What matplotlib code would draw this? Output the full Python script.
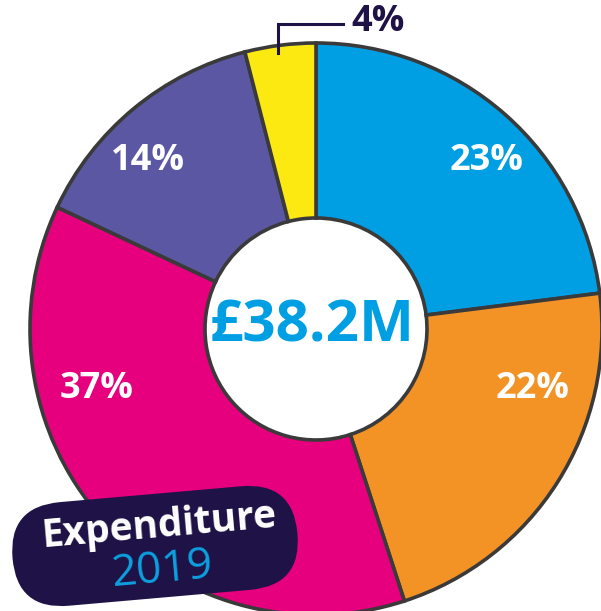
import matplotlib
matplotlib.use("Agg")
import matplotlib.pyplot as plt
from matplotlib.patches import FancyBboxPatch
from matplotlib.transforms import Affine2D

# ---- data ----
categories = ["Blue", "Orange", "Magenta", "Purple", "Yellow"]
shares = [23, 22, 37, 14, 4]
labels = ["23%", "22%", "37%", "14%", "4%"]
colors = ["#009fe3", "#f39325", "#e6007e", "#5b57a2", "#fde912"]
total_label = "£38.2M"
title_label = "Expenditure"
year_label = "2019"

W, H = 601, 611
fig = plt.figure(figsize=(W / 100, H / 100), dpi=100)
ax = fig.add_axes([0, 0, 1, 1])

cx, cy = 316, H - 329
R_out, R_in = 286, 111
edge = "#3a3a3a"

ax.pie(shares, colors=colors, startangle=90, counterclock=False,
       radius=R_out, center=(cx, cy),
       wedgeprops=dict(width=R_out - R_in, edgecolor=edge, linewidth=2.6))
ax.set_xlim(0, W)
ax.set_ylim(0, H)
ax.set_aspect("equal")
ax.axis("off")

font = "Open Sans"
navy = "#1e1246"

# value labels (layout positions)
label_pos = [(487, 161), (533, 389), (97, 389), (148, 161)]
for (x, y), lab in zip(label_pos, labels[:4]):
    ax.text(x, H - y, lab, color="white", fontsize=26, fontweight="bold",
            family=font, ha="center", va="center")

# 4% with leader line
ax.plot([278, 278, 343], [H - 53, H - 24, H - 24], color=navy, lw=2.2,
        solid_joinstyle="miter")
ax.text(378, H - 22, labels[4], color=navy, fontsize=26, fontweight="bold",
        family=font, ha="center", va="center")

# centre total
ax.text(cx - 4, H - 327, total_label, color="#009fe3", fontsize=42,
        fontweight="bold", family=font, ha="center", va="center")

# rotated pill box
bx, by = 155, H - 546
bw, bh = 286, 104
ang = 5
rot = Affine2D().rotate_deg_around(bx, by, ang) + ax.transData
box = FancyBboxPatch((bx - bw / 2, by - bh / 2), bw, bh,
                     boxstyle=f"round,pad=0,rounding_size={bh/2}",
                     facecolor=navy, edgecolor="none", transform=rot)
ax.add_patch(box)
ax.text(159, H - 526, title_label, color="white", fontsize=28,
        fontweight="bold", family=font, ha="center", va="center",
        rotation=ang, rotation_mode="anchor")
ax.text(163, H - 570, year_label, color="#0da0e0", fontsize=32,
        family=font, ha="center", va="center",
        rotation=ang, rotation_mode="anchor")

fig.savefig("out.png", dpi=100)
